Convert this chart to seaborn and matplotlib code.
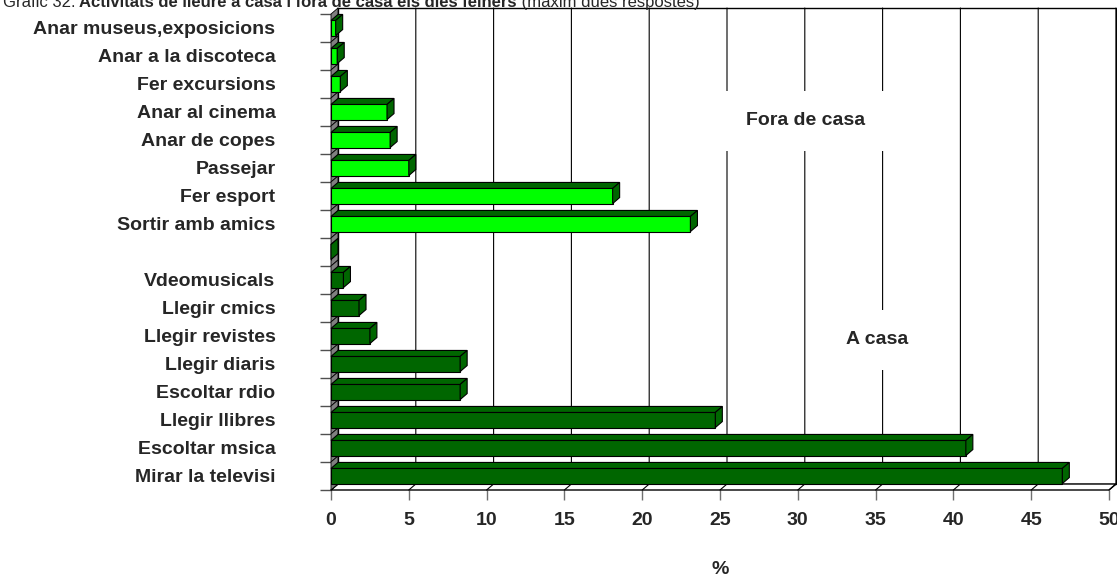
import pandas as pd
import matplotlib.pyplot as plt
import seaborn as sns
from matplotlib.patches import Polygon, Rectangle

activitats = ['Anar museus,exposicions', 'Anar a la discoteca', 'Fer excursions',
              'Anar al cinema', 'Anar de copes', 'Passejar', 'Fer esport',
              'Sortir amb amics', '', 'Vdeomusicals', 'Llegir cmics',
              'Llegir revistes', 'Llegir diaris', 'Escoltar rdio', 'Llegir llibres',
              'Escoltar msica', 'Mirar la televisi']
percentatge = [0.3, 0.4, 0.6, 3.6, 3.8, 5.0, 18.1, 23.1, 0.0,
               0.8, 1.8, 2.5, 8.3, 8.3, 24.7, 40.8, 47.0]
grup = ['Fora de casa'] * 8 + ['A casa'] * 9
x_ticks = list(range(0, 51, 5))

df = pd.DataFrame({'activitat': activitats, 'pct': percentatge, 'grup': grup})

sns.set_style('white')
plt.rcParams['font.family'] = ['Liberation Sans Narrow', 'Liberation Sans', 'DejaVu Sans']
FS = 14

fig = plt.figure(figsize=(11.17, 5.77), dpi=100)
ax = fig.add_axes([331 / 1117, 87 / 577, 778 / 1117, 476 / 577])

sns.barplot(data=df, x='pct', y='activitat', hue='grup', dodge=False,
            palette={'Fora de casa': '#00ff00', 'A casa': '#006600'},
            saturation=1, width=0.54, edgecolor='black', linewidth=0.8,
            legend=False, ax=ax, zorder=4)

n = len(activitats)
ax.set_xlim(0, 50)
ax.set_ylim(n - 0.5, -0.5)
for s in ax.spines.values():
    s.set_visible(False)

# depth of the fake 3d: 7 px right, 6 px up
p0 = ax.transData.transform((0, 0))
p1 = ax.transData.transform((1, 1))
dx = 7 / (p1[0] - p0[0])
dy = 6 / (p1[1] - p0[1])
top, bot = -0.5, n - 0.5

# back wall + gridlines + floor
ax.add_patch(Rectangle((dx, top + dy), 50, n, facecolor='white', edgecolor='black',
                       lw=1, zorder=0, clip_on=False))
ax.add_patch(Polygon([(0, bot), (50, bot), (50 + dx, bot + dy), (dx, bot + dy)],
                     closed=True, facecolor='white', edgecolor='black', lw=1,
                     zorder=1, clip_on=False))
for t in x_ticks:
    ax.plot([t + dx, t + dx, t], [top + dy, bot + dy, bot], color='black', lw=0.8,
            zorder=1, clip_on=False)

# grey left wall, one piece per row
for i in range(n):
    ax.add_patch(Polygon([(0, i - 0.5), (dx, i - 0.5 + dy), (dx, i + 0.5 + dy), (0, i + 0.5)],
                         closed=True, facecolor='#808080', edgecolor='black', lw=0.6,
                         zorder=2, clip_on=False))

# top and side faces of the bars
for p in list(ax.patches):
    if p.get_zorder() != 4:
        continue
    x0, y0, w, h = p.get_x(), p.get_y(), p.get_width(), p.get_height()
    ax.add_patch(Polygon([(x0, y0), (x0 + w, y0), (x0 + w + dx, y0 + dy), (x0 + dx, y0 + dy)],
                         closed=True, facecolor='#006600', edgecolor='black', lw=0.8,
                         zorder=4, clip_on=False))
    ax.add_patch(Polygon([(x0 + w, y0), (x0 + w, y0 + h), (x0 + w + dx, y0 + h + dy),
                          (x0 + w + dx, y0 + dy)],
                         closed=True, facecolor='#006600', edgecolor='black', lw=0.8,
                         zorder=4, clip_on=False))

ax.text(30.5, 3.32, 'Fora de casa', fontsize=FS, fontweight='bold', ha='center', va='center',
        zorder=3, bbox=dict(boxstyle='square,pad=1.1', facecolor='white', edgecolor='none'))
ax.text(35.1, 11.14, 'A casa', fontsize=FS, fontweight='bold', ha='center', va='center',
        zorder=3, bbox=dict(boxstyle='square,pad=1.1', facecolor='white', edgecolor='none'))

ax.set_xticks(x_ticks)
ax.set_xticklabels([str(t) for t in x_ticks], fontsize=FS, fontweight='bold')
ax.tick_params(axis='x', bottom=True, length=7, width=1, color='#707070', pad=9)
ax.set_yticks(range(n))
ax.set_yticklabels(activitats, fontsize=FS, fontweight='bold')
ax.set_yticks([i - 0.5 for i in range(n + 1)], minor=True)
ax.tick_params(axis='y', which='major', left=False, length=0, pad=40)
ax.tick_params(axis='y', which='minor', left=True, length=8, width=1, color='#505050')
ax.set_xlabel('')
ax.set_ylabel('')

fig.text(720 / 1117, 7 / 577, '%', fontsize=FS, fontweight='bold', ha='center', va='center')

# title, cut off by the top edge as in the source
t1 = fig.text(3 / 1117, 570 / 577, 'Gràfic 32.', fontsize=12, family='Liberation Sans',
              va='baseline')
t2 = fig.text(0, 0, ' Activitats de lleure a casa i fora de casa els dies feiners',
              fontsize=12, family='Liberation Sans', fontweight='bold')
t3 = fig.text(0, 0, ' (màxim dues respostes)', fontsize=12, family='Liberation Sans')
fig.canvas.draw()
r = fig.canvas.get_renderer()
inv = fig.transFigure.inverted()
bb = t1.get_window_extent(r)
t2.set_position(inv.transform((bb.x1, 0))[0:1].tolist() + [570 / 577])
t2.set_va('baseline')
bb = t2.get_window_extent(r)
t3.set_position(inv.transform((bb.x1, 0))[0:1].tolist() + [570 / 577])
t3.set_va('baseline')

fig.savefig('out.png', dpi=100)
